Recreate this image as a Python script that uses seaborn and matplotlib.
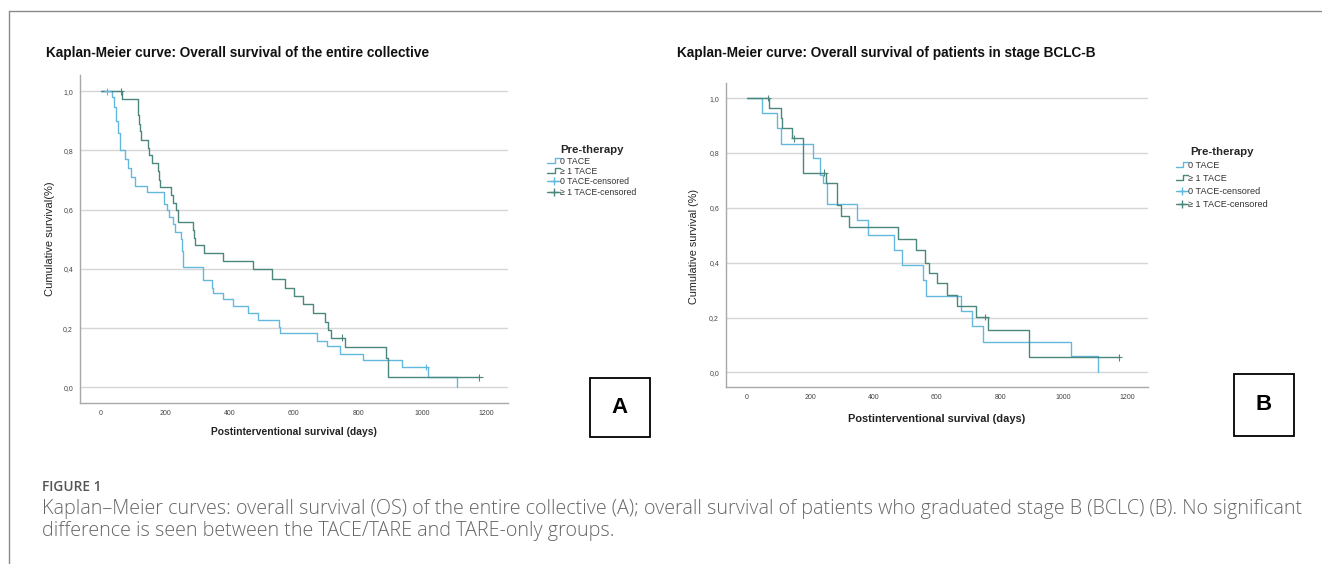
import numpy as np
import pandas as pd
import matplotlib
matplotlib.use("Agg")
import matplotlib.pyplot as plt
import seaborn as sns
from matplotlib.lines import Line2D
from matplotlib.patches import Rectangle
from matplotlib.legend_handler import HandlerBase

# ---- data ----
groups = ["0 TACE", "\u2265 1 TACE"]
colors = {"0 TACE": "#63b8de", "\u2265 1 TACE": "#4b877c"}

# panel A: entire collective
a_none_days = [0, 34, 40, 48, 54, 58, 75, 85, 95, 107, 143, 195, 205, 212, 225, 231, 248, 252, 255,
               317, 319, 345, 348, 379, 412, 459, 488, 555, 558, 671, 702, 744, 814, 936, 1018, 1107]
a_none_surv = [1.0, 0.98, 0.946, 0.90, 0.86, 0.80, 0.77, 0.74, 0.71, 0.68, 0.66, 0.62, 0.598, 0.576,
               0.55, 0.525, 0.50, 0.46, 0.407, 0.39, 0.363, 0.335, 0.318, 0.298, 0.273, 0.25, 0.228,
               0.205, 0.183, 0.158, 0.138, 0.113, 0.091, 0.068, 0.034, 0.0]
a_none_cens_days = [20, 1010]
a_none_cens_surv = [1.0, 0.068]

a_some_days = [0, 66, 114, 116, 118, 121, 124, 148, 151, 158, 179, 181, 183, 218, 225, 234, 241,
               286, 290, 293, 321, 381, 472, 531, 573, 599, 630, 661, 697, 705, 717, 759, 887, 894, 1177]
a_some_surv = [1.0, 0.973, 0.946, 0.92, 0.89, 0.865, 0.837, 0.81, 0.786, 0.758, 0.73, 0.70, 0.675,
               0.65, 0.622, 0.60, 0.559, 0.53, 0.505, 0.48, 0.455, 0.425, 0.40, 0.365, 0.335, 0.31,
               0.28, 0.25, 0.222, 0.195, 0.168, 0.135, 0.10, 0.034, 0.034]
a_some_cens_days = [62, 749, 1177]
a_some_cens_surv = [1.0, 0.168, 0.034]

# panel B: stage BCLC-B
b_none_days = [0, 47, 97, 107, 208, 231, 240, 252, 349, 384, 465, 489, 557, 566, 675, 710, 746, 1022, 1109]
b_none_surv = [1.0, 0.947, 0.89, 0.833, 0.78, 0.72, 0.69, 0.613, 0.556, 0.50, 0.446, 0.39, 0.337,
               0.278, 0.225, 0.169, 0.112, 0.059, 0.0]

b_some_days = [0, 70, 110, 112, 142, 177, 179, 250, 286, 297, 324, 476, 534, 562, 576, 599, 631,
               664, 725, 762, 891, 1175]
b_some_surv = [1.0, 0.963, 0.926, 0.89, 0.853, 0.80, 0.728, 0.69, 0.61, 0.57, 0.529, 0.485, 0.446,
               0.40, 0.364, 0.325, 0.282, 0.242, 0.203, 0.154, 0.055, 0.055]
b_some_cens_days = [68, 150, 245, 753, 1175]
b_some_cens_surv = [1.0, 0.853, 0.728, 0.203, 0.055]

x_ticks = [0, 200, 400, 600, 800, 1000, 1200]
y_ticks = [0.0, 0.2, 0.4, 0.6, 0.8, 1.0]
y_tick_labels = ["0,0", "0,2", "0,4", "0,6", "0,8", "1,0"]

sns.set_theme(style="white")
plt.rcParams["font.family"] = ["Liberation Sans", "DejaVu Sans"]

W, H = 1322, 564
fig = plt.figure(figsize=(W / 100, H / 100), dpi=100)


def fx(px):
    return px / W


def fy(py):
    return 1 - py / H


class StepLine(Line2D):
    pass


class HandlerStep(HandlerBase):
    def create_artists(self, legend, orig_handle, xdescent, ydescent, width, height, fontsize, trans):
        x = np.array([0, 0.6, 0.6, 1.0]) * width - xdescent
        y = np.array([0.1, 0.1, 0.9, 0.9]) * height - ydescent
        ln = Line2D(x, y, color=orig_handle.get_color(), lw=orig_handle.get_linewidth())
        ln.set_transform(trans)
        return [ln]


def km_panel(rect, curves, cens):
    ax = fig.add_axes(rect)
    df = pd.concat([pd.DataFrame({"days": d, "surv": s, "group": g}) for g, d, s in curves])
    sns.lineplot(data=df, x="days", y="surv", hue="group", palette=colors, estimator=None,
                 sort=False, drawstyle="steps-post", lw=1.0, legend=False, ax=ax)
    if cens:
        cdf = pd.concat([pd.DataFrame({"days": d, "surv": s, "group": g}) for g, d, s in cens])
        sns.scatterplot(data=cdf, x="days", y="surv", hue="group", palette=colors, marker="+",
                        s=22, linewidth=0.8, legend=False, ax=ax, zorder=3)
    ax.set_xlim(-65, 1266)
    ax.set_ylim(-0.053, 1.055)
    ax.set_xticks(x_ticks)
    ax.set_yticks(y_ticks)
    ax.set_yticklabels(y_tick_labels)
    ax.tick_params(length=0, labelsize=5, colors="#444444", pad=5)
    ax.yaxis.grid(True, color="#d6d6d6", lw=1.0)
    ax.set_axisbelow(True)
    for side in ["top", "right"]:
        ax.spines[side].set_visible(False)
    for side in ["left", "bottom"]:
        ax.spines[side].set_color("#a8a8a8")
        ax.spines[side].set_linewidth(1.0)
    ax.set_xlabel("")
    ax.set_ylabel("")
    return ax


def add_legend(anchor, size, title_size, spacing, hlen):
    handles = [StepLine([], [], color=colors[groups[0]], lw=1.0),
               StepLine([], [], color=colors[groups[1]], lw=1.0),
               Line2D([], [], color=colors[groups[0]], lw=1.0, marker="+", markersize=6),
               Line2D([], [], color=colors[groups[1]], lw=1.0, marker="+", markersize=6)]
    labels = [groups[0], groups[1], groups[0] + "-censored", groups[1] + "-censored"]
    leg = fig.legend(handles, labels, loc="upper left", bbox_to_anchor=anchor, frameon=False,
                     title="Pre-therapy", fontsize=size, handlelength=hlen, handletextpad=0.1,
                     labelspacing=spacing, numpoints=1, borderpad=0,
                     handler_map={StepLine: HandlerStep()},
                     title_fontproperties={"weight": "bold", "size": title_size})
    for t in leg.get_texts():
        t.set_color("#333333")


ax_a = km_panel([fx(80), fy(403), fx(508) - fx(80), fy(75) - fy(403)],
                [(groups[0], a_none_days, a_none_surv), (groups[1], a_some_days, a_some_surv)],
                [(groups[0], a_none_cens_days, a_none_cens_surv),
                 (groups[1], a_some_cens_days, a_some_cens_surv)])
ax_b = km_panel([fx(726), fy(387), fx(1148) - fx(726), fy(83) - fy(387)],
                [(groups[0], b_none_days, b_none_surv), (groups[1], b_some_days, b_some_surv)],
                [(groups[1], b_some_cens_days, b_some_cens_surv)])

# titles and axis labels
fig.text(fx(46), fy(53), "Kaplan-Meier curve: Overall survival of the entire collective",
         ha="left", va="center", weight="bold", size=9.8, color="#111111")
fig.text(fx(677), fy(53), "Kaplan-Meier curve: Overall survival of patients in stage BCLC-B",
         ha="left", va="center", weight="bold", size=9.8, color="#111111")
fig.text(fx(50), fy(239), "Cumulative survival(%)", rotation=90, ha="center", va="center",
         size=8.0, color="#222222")
fig.text(fx(694), fy(247), "Cumulative survival (%)", rotation=90, ha="center", va="center",
         size=7.8, color="#222222")
fig.text(fx(294), fy(432), "Postinterventional survival (days)", ha="center", va="center",
         weight="bold", size=7.4, color="#222222")
fig.text(fx(937), fy(419), "Postinterventional survival (days)", ha="center", va="center",
         weight="bold", size=7.9, color="#222222")

add_legend((fx(543), fy(141)), 6.3, 8.2, 0.15, 1.4)
add_legend((fx(1171), fy(142)), 6.6, 8.2, 0.45, 1.3)

# panel letters in boxes
for (x0, y0, x1, y1, letter) in [(590, 378, 650, 437, "A"), (1234, 374, 1294, 436, "B")]:
    fig.add_artist(Rectangle((fx(x0), fy(y1)), fx(x1) - fx(x0), fy(y0) - fy(y1),
                             transform=fig.transFigure, fill=False, ec="black", lw=1.3))
    fig.text(fx((x0 + x1) / 2), fy((y0 + y1) / 2), letter, ha="center", va="center",
             weight="bold", size=16, color="black")

# page frame
fig.add_artist(Line2D([fx(9), fx(9)], [0, fy(11)], transform=fig.transFigure, color="#8a8a8a", lw=1))
fig.add_artist(Line2D([fx(9), 1], [fy(11), fy(11)], transform=fig.transFigure, color="#8a8a8a", lw=1))

# caption
cap_font = ["Open Sans", "DejaVu Sans"]
fig.text(fx(42), fy(487), "FIGURE 1", ha="left", va="center", size=9.9, weight="semibold",
         color="#555555", family=cap_font)
fig.text(fx(42), fy(509), "Kaplan\u2013Meier curves: overall survival (OS) of the entire collective (A); "
         "overall survival of patients who graduated stage B (BCLC) (B). No significant",
         ha="left", va="center", size=14.2, weight="light", color="#666666", family=cap_font)
fig.text(fx(42), fy(531), "difference is seen between the TACE/TARE and TARE-only groups.",
         ha="left", va="center", size=14.2, weight="light", color="#666666", family=cap_font)

fig.savefig("out.png", dpi=100)
